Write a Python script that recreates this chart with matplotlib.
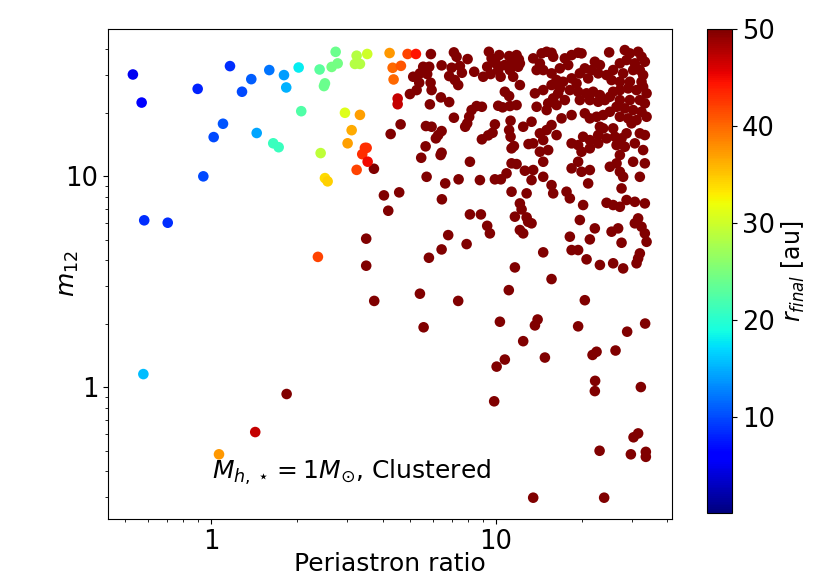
import matplotlib
matplotlib.use("Agg")
import matplotlib.pyplot as plt
import numpy as np

# points with r_final below the colour limit
peri_in = [0.532, 0.571, 0.583, 0.705, 0.898, 1.166, 0.940, 1.022, 1.102, 1.285,
           1.385, 1.602, 1.804, 1.837, 1.447, 1.654, 1.728, 2.031, 2.074, 2.406,
           2.512, 2.492, 2.652, 2.784, 2.739, 2.426, 3.245, 3.201, 3.333, 3.535,
           2.953, 3.333, 3.117, 3.017, 2.512, 2.567, 4.236, 4.341, 4.375, 3.470,
           3.518, 3.396, 3.547, 3.245, 2.373, 4.521, 4.521, 0.579, 1.067, 1.430,
           1.843, 4.899, 5.240, 4.642]
m12_in = [30.3, 22.3, 6.17, 6.01, 25.9, 33.2, 9.97, 15.3, 17.7, 25.1,
          28.8, 31.8, 30.1, 26.3, 16.0, 14.3, 13.7, 32.7, 20.3, 32.0,
          27.5, 26.7, 32.9, 34.2, 38.8, 12.85, 37.2, 34.0, 34.0, 37.9,
          19.95, 19.5, 16.5, 14.3, 9.78, 9.44, 38.3, 32.6, 28.7, 13.6,
          13.6, 12.7, 11.7, 10.7, 4.14, 23.3, 21.9, 1.152, 0.480, 0.612,
          0.927, 37.9, 37.9, 33.3]
rfin_in = [5, 6, 8.5, 8.5, 8, 8.5, 10, 10, 10.5, 10,
           11, 12, 14, 15, 14.5, 21, 21, 18, 22.5, 23,
           24, 24, 24.5, 24.5, 24, 29, 28.5, 28.5, 28.5, 30,
           31, 37, 36.5, 37, 34, 34.5, 37.5, 40, 40, 43,
           43, 43, 45, 42, 42, 47, 47, 15.5, 37.5, 47,
           50, 42, 44.5, 41]

# points at or beyond the upper colour limit (dark red)
peri_out = [5.914, 7.123, 7.279, 7.957, 9.450, 9.658, 10.27, 11.13, 11.82, 12.04,
            5.558, 5.834, 5.412, 5.740, 6.449, 6.993, 7.477, 7.598, 8.393, 9.025,
            9.322, 9.581, 10.0, 10.19, 10.39, 10.75, 11.20, 11.35, 11.97, 11.50,
            12.14, 5.127, 5.382, 5.270, 4.992, 5.948, 5.900, 6.857, 7.180, 7.374,
            6.412, 6.857, 5.866, 10.75, 11.13, 10.19, 10.56, 11.20, 8.557, 8.931,
            8.217, 8.060, 7.931, 7.804, 7.123, 4.630, 4.272, 5.681, 5.948, 6.449,
            6.273, 6.158, 9.920, 9.736, 9.397, 8.931, 11.26, 11.13, 11.26, 12.47,
            11.57, 11.35, 13.02, 5.667, 5.469, 6.449, 6.397, 8.107, 11.35, 11.82,
            10.90, 12.64, 5.713, 6.640, 7.398, 8.788, 9.920, 10.41, 11.35, 12.82,
            4.046, 4.578, 4.190, 6.464, 8.107, 8.859, 12.14, 12.31, 11.66, 12.82,
            9.322, 9.526, 6.802, 7.893, 6.449, 5.820, 12.14, 12.47, 11.66, 3.732,
            3.506, 3.506, 3.741,
            12.14, 13.52, 14.47, 15.07, 15.68, 15.89, 14.27, 13.90, 14.66, 17.46,
            18.44, 19.44, 19.98, 17.94, 16.77, 22.25, 23.18, 21.66, 22.86, 20.52,
            19.71, 21.08, 24.98, 28.35, 29.53, 31.57, 32.45, 33.33, 28.75, 27.24,
            30.74, 30.32, 32.01, 27.97, 25.80, 24.46, 25.47, 27.24, 29.53, 32.45,
            32.87, 15.68, 16.33, 15.68, 17.22, 16.77, 18.44, 19.19, 18.18, 19.44,
            13.71, 14.66, 15.89, 16.54, 15.26, 16.33, 17.46, 20.81, 21.95, 23.18,
            19.71, 21.37, 22.86, 24.13, 25.12, 25.80, 27.24, 29.12, 31.17, 32.87,
            33.80, 27.24, 29.53, 32.01, 33.33, 26.52, 28.35, 30.32, 32.45, 33.80,
            27.24, 29.12, 31.17, 13.90, 15.07, 11.82, 17.00, 18.44, 20.52, 21.37,
            22.56, 23.80, 25.12, 13.34, 14.27, 15.07, 15.68, 16.33, 14.66, 13.52,
            15.26, 14.27, 18.44, 19.44, 20.24, 21.37, 22.86, 23.80, 23.18, 25.80,
            26.16, 27.61, 28.75, 29.93, 32.01, 33.33, 32.87, 30.74, 28.35, 26.52,
            27.24, 19.98, 21.37, 22.86, 24.46, 13.52, 13.34, 14.66, 14.66, 18.44,
            19.44, 19.98, 21.37, 21.08, 25.12, 26.52, 27.24, 27.97, 27.61, 30.32,
            32.01, 33.33, 15.68, 15.89, 17.70, 18.18, 20.24, 19.71, 24.46, 25.80,
            27.24, 28.75, 30.74, 33.33, 12.98, 13.34, 22.25, 21.37, 18.18, 18.44,
            19.44, 25.47, 26.86, 27.61, 30.74, 31.57, 32.45, 33.33, 33.80, 14.66,
            20.81, 23.18, 25.80, 27.97, 31.17, 32.01, 31.57,
            15.68, 5.412, 7.374, 11.10, 5.576, 10.33, 14.01, 13.71, 12.47, 10.75,
            10.06, 14.86, 20.52, 19.44, 21.84, 22.56, 26.30, 28.89, 33.41, 22.30,
            22.25, 32.27, 9.863, 30.42, 31.57, 23.12, 29.77, 33.60, 33.60, 13.52,
            23.99]
m12_out = [37.86, 38.57, 36.76, 35.85, 38.82, 36.13, 37.45, 37.04, 37.45, 35.74,
           32.96, 32.96, 30.67, 30.44, 33.47, 32.61, 33.22, 30.87, 31.21, 29.56,
           32.96, 30.44, 34.21, 31.80, 29.56, 33.59, 31.80, 34.21, 32.96, 29.56,
           27.00, 29.56, 27.69, 25.56, 24.47, 25.56, 27.69, 29.78, 28.51, 27.00,
           23.60, 22.42, 21.87, 25.09, 23.94, 21.54, 21.17, 21.47, 21.47, 21.30,
           20.55, 19.10, 17.78, 17.13, 18.90, 17.58, 15.82, 17.26, 17.13, 16.34,
           15.64, 15.09, 17.58, 16.04, 15.59, 14.93, 18.29, 16.52, 15.36, 17.13,
           13.87, 13.53, 14.18, 13.83, 12.21, 12.90, 12.58, 11.69, 11.49, 11.40,
           10.30, 10.60, 9.92, 9.23, 9.65, 9.57, 9.65, 9.65, 8.43, 8.28,
           8.10, 8.37, 6.85, 7.76, 6.58, 6.58, 7.42, 6.95, 6.42, 6.37,
           5.81, 5.35, 5.25, 4.76, 4.49, 4.10, 5.55, 5.35, 3.69, 10.83,
           5.05, 3.76, 2.56,
           34.21, 36.13, 38.15, 38.82, 38.40, 36.76, 34.21, 31.80, 31.80, 36.13,
           37.45, 38.40, 38.15, 33.59, 32.39, 34.82, 33.59, 31.80, 30.67, 32.39,
           30.67, 29.04, 38.57, 39.55, 38.15, 38.82, 36.76, 34.82, 35.47, 34.21,
           34.21, 31.80, 31.80, 30.67, 31.80, 30.11, 28.51, 27.99, 27.99, 27.99,
           30.11, 30.67, 28.51, 27.00, 27.99, 26.04, 29.04, 27.50, 25.56, 25.09,
           24.66, 25.56, 23.34, 24.66, 22.11, 21.70, 22.92, 24.66, 25.09, 24.20,
           22.92, 22.92, 22.50, 22.92, 23.76, 25.09, 25.56, 26.04, 25.56, 26.50,
           24.66, 22.92, 22.92, 22.92, 22.11, 21.30, 20.94, 20.55, 20.17, 19.10,
           19.10, 18.77, 18.42, 21.30, 20.55, 21.70, 18.77, 19.46, 19.83, 18.77,
           19.10, 19.46, 20.17, 18.09, 15.94, 16.52, 17.45, 15.64, 14.81, 14.29,
           13.28, 13.04, 14.29, 14.02, 15.36, 14.81, 15.64, 16.83, 17.13, 16.83,
           15.36, 15.09, 15.94, 17.78, 15.94, 15.64, 13.28, 14.29, 13.77, 14.02,
           12.58, 13.04, 13.53, 14.29, 15.09, 10.68, 9.57, 11.69, 9.92, 10.88,
           11.69, 10.48, 10.68, 9.23, 11.07, 11.49, 10.48, 9.92, 8.74, 11.69,
           9.92, 11.49, 9.06, 8.28, 8.43, 7.84, 7.29, 6.19, 7.47, 7.29,
           7.15, 7.70, 7.55, 7.42, 6.07, 5.97, 5.65, 5.01, 5.16, 4.46,
           4.46, 5.45, 5.65, 4.83, 5.97, 6.30, 5.75, 5.35, 4.88, 4.35,
           4.03, 3.79, 3.86, 3.65, 3.86, 4.30, 4.07,
           3.25, 2.77, 2.56, 2.88, 1.92, 2.04, 2.09, 1.96, 1.65, 1.35,
           1.25, 1.38, 2.58, 1.94, 1.42, 1.47, 1.49, 1.83, 2.00, 1.07,
           0.957, 1.00, 0.856, 0.578, 0.603, 0.499, 0.480, 0.493, 0.467, 0.299,
           0.299]
rfin_out = 50.0

fig = plt.figure(figsize=(8.3, 5.78), dpi=100)
ax = fig.add_axes([0.1301, 0.1021, 0.6795, 0.8478])
cax = fig.add_axes([0.8518, 0.1125, 0.0301, 0.8374])

norm = matplotlib.colors.Normalize(vmin=0.1, vmax=50)
ax.scatter(peri_out, m12_out, c=np.full(len(peri_out), rfin_out), cmap='jet',
           norm=norm, s=58, linewidths=0)
sc = ax.scatter(peri_in, m12_in, c=rfin_in, cmap='jet', norm=norm, s=58, linewidths=0)

ax.set_xscale('log')
ax.set_yscale('log')
ax.set_xlim(0.435, 41.5)
ax.set_ylim(0.237, 49.8)
ax.xaxis.set_major_formatter(matplotlib.ticker.FuncFormatter(lambda v, p: '%g' % v))
ax.yaxis.set_major_formatter(matplotlib.ticker.FuncFormatter(lambda v, p: '%g' % v))
ax.tick_params(axis='both', which='major', labelsize=18.5)
ax.set_xlabel('Periastron ratio', fontsize=18)
ax.xaxis.set_label_coords(0.5, -0.068)
ax.set_ylabel('$m_{12}$', fontsize=18)
ax.yaxis.set_label_coords(-0.048, 0.5)
ax.text(0.184, 0.095, r'$M_{h,\star} = 1M_{\odot}$, Clustered', transform=ax.transAxes,
        fontsize=18, va='center', ha='left')

cb = fig.colorbar(sc, cax=cax)
cb.set_ticks([10, 20, 30, 40, 50])
cb.ax.tick_params(labelsize=18.5)
cb.set_label(r'$r_{final}$ [au]', fontsize=17)

fig.savefig('out.png', dpi=100)
